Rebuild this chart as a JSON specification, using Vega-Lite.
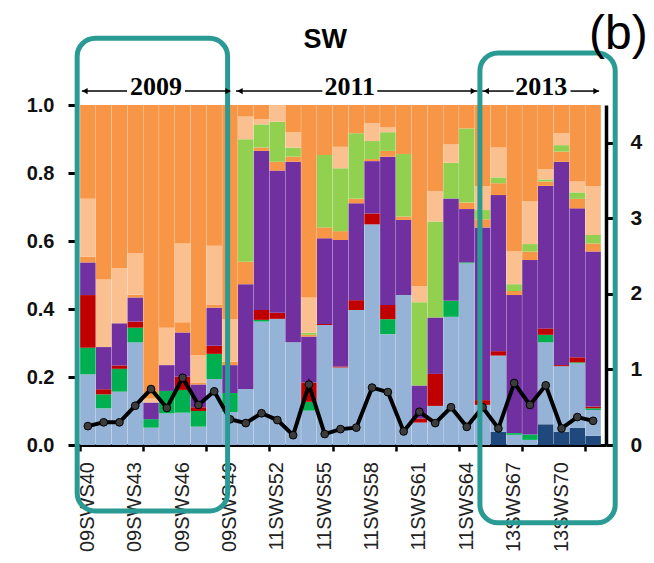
{
  "$schema": "https://vega.github.io/schema/vega-lite/v6.json",
  "autosize": {"type": "none"},
  "width": 531,
  "height": 340,
  "padding": {"left": 75, "top": 105, "right": 48, "bottom": 118},
  "background": "white",
  "config": {"view": {"stroke": null}, "font": "Liberation Sans"},
  "datasets": {
    "samples": [
      {"s":"09SWS40","n":40,"F1":0,"F2":0.208,"F3":0.078,"F4":0.155,"F5":0.096,"F6":0.017,"F7":0,"F8":0.17,"F9":0.276,"r":0.25},
      {"s":"09SWS41","n":41,"F1":0,"F2":0.108,"F3":0.041,"F4":0.015,"F5":0.124,"F6":0,"F7":0,"F8":0.199,"F9":0.513,"r":0.30},
      {"s":"09SWS42","n":42,"F1":0,"F2":0.157,"F3":0.067,"F4":0.010,"F5":0.124,"F6":0,"F7":0,"F8":0.162,"F9":0.48,"r":0.30},
      {"s":"09SWS43","n":43,"F1":0,"F2":0.302,"F3":0.043,"F4":0.018,"F5":0.071,"F6":0.008,"F7":0,"F8":0.121,"F9":0.437,"r":0.52},
      {"s":"09SWS44","n":44,"F1":0,"F2":0.051,"F3":0.025,"F4":0,"F5":0.049,"F6":0,"F7":0,"F8":0.012,"F9":0.863,"r":0.74},
      {"s":"09SWS45","n":45,"F1":0,"F2":0.093,"F3":0.066,"F4":0,"F5":0.076,"F6":0,"F7":0,"F8":0.11,"F9":0.655,"r":0.49},
      {"s":"09SWS46","n":46,"F1":0,"F2":0.095,"F3":0.067,"F4":0.039,"F5":0.13,"F6":0.03,"F7":0,"F8":0.232,"F9":0.407,"r":0.89},
      {"s":"09SWS47","n":47,"F1":0,"F2":0.054,"F3":0.046,"F4":0.011,"F5":0.067,"F6":0.006,"F7":0,"F8":0.081,"F9":0.735,"r":0.53},
      {"s":"09SWS48","n":48,"F1":0,"F2":0.194,"F3":0.074,"F4":0.024,"F5":0.112,"F6":0.008,"F7":0,"F8":0.174,"F9":0.414,"r":0.71},
      {"s":"09SWS49","n":49,"F1":0,"F2":0.097,"F3":0.056,"F4":0,"F5":0.082,"F6":0.01,"F7":0,"F8":0.125,"F9":0.63,"r":0.34},
      {"s":"11SWS50","n":50,"F1":0,"F2":0.165,"F3":0,"F4":0,"F5":0.308,"F6":0.066,"F7":0.36,"F8":0.067,"F9":0.034,"r":0.29},
      {"s":"11SWS51","n":51,"F1":0,"F2":0.363,"F3":0.005,"F4":0.029,"F5":0.468,"F6":0.01,"F7":0.068,"F8":0.015,"F9":0.042,"r":0.42},
      {"s":"11SWS52","n":52,"F1":0,"F2":0.371,"F3":0,"F4":0.018,"F5":0.418,"F6":0.026,"F7":0.118,"F8":0.049,"F9":0,"r":0.33},
      {"s":"11SWS53","n":53,"F1":0,"F2":0.302,"F3":0,"F4":0,"F5":0.531,"F6":0.015,"F7":0.027,"F8":0.045,"F9":0.08,"r":0.13},
      {"s":"11SWS54","n":54,"F1":0,"F2":0.101,"F3":0.026,"F4":0.057,"F5":0.135,"F6":0.005,"F7":0.006,"F8":0.104,"F9":0.566,"r":0.80},
      {"s":"11SWS55","n":55,"F1":0,"F2":0.353,"F3":0,"F4":0.003,"F5":0.252,"F6":0.032,"F7":0.213,"F8":0,"F9":0.147,"r":0.145},
      {"s":"11SWS56","n":56,"F1":0,"F2":0.228,"F3":0,"F4":0.003,"F5":0.372,"F6":0.026,"F7":0.185,"F8":0.063,"F9":0.123,"r":0.21},
      {"s":"11SWS57","n":57,"F1":0,"F2":0.397,"F3":0,"F4":0.029,"F5":0.285,"F6":0.013,"F7":0.193,"F8":0,"F9":0.083,"r":0.23},
      {"s":"11SWS58","n":58,"F1":0,"F2":0.649,"F3":0,"F4":0.032,"F5":0.154,"F6":0.006,"F7":0.053,"F8":0.052,"F9":0.054,"r":0.76},
      {"s":"11SWS59","n":59,"F1":0,"F2":0.326,"F3":0.044,"F4":0.042,"F5":0.436,"F6":0.017,"F7":0.055,"F8":0.014,"F9":0.066,"r":0.70},
      {"s":"11SWS60","n":60,"F1":0,"F2":0.441,"F3":0,"F4":0,"F5":0.221,"F6":0.01,"F7":0.184,"F8":0,"F9":0.144,"r":0.18},
      {"s":"11SWS61","n":61,"F1":0,"F2":0.066,"F3":0,"F4":0.012,"F5":0.097,"F6":0,"F7":0.245,"F8":0.048,"F9":0.532,"r":0.44},
      {"s":"11SWS62","n":62,"F1":0,"F2":0.115,"F3":0,"F4":0.094,"F5":0.166,"F6":0,"F7":0.282,"F8":0.09,"F9":0.253,"r":0.29},
      {"s":"11SWS63","n":63,"F1":0,"F2":0.377,"F3":0.047,"F4":0,"F5":0.301,"F6":0,"F7":0.105,"F8":0.054,"F9":0.116,"r":0.50},
      {"s":"11SWS64","n":64,"F1":0,"F2":0.534,"F3":0.003,"F4":0,"F5":0.157,"F6":0.019,"F7":0.218,"F8":0,"F9":0.069,"r":0.24},
      {"s":"13SWS65","n":65,"F1":0,"F2":0.118,"F3":0,"F4":0.014,"F5":0.508,"F6":0.024,"F7":0.027,"F8":0.071,"F9":0.238,"r":0.50},
      {"s":"13SWS66","n":66,"F1":0.039,"F2":0.224,"F3":0,"F4":0.013,"F5":0.459,"F6":0.035,"F7":0.017,"F8":0.088,"F9":0.125,"r":0.22},
      {"s":"13SWS67","n":67,"F1":0,"F2":0.03,"F3":0.005,"F4":0,"F5":0.406,"F6":0.012,"F7":0.02,"F8":0.096,"F9":0.431,"r":0.82},
      {"s":"13SWS68","n":68,"F1":0,"F2":0.015,"F3":0.016,"F4":0,"F5":0.513,"F6":0.025,"F7":0.022,"F8":0.125,"F9":0.284,"r":0.53},
      {"s":"13SWS69","n":69,"F1":0.061,"F2":0.241,"F3":0.022,"F4":0.019,"F5":0.419,"F6":0.013,"F7":0.006,"F8":0.03,"F9":0.189,"r":0.79},
      {"s":"13SWS70","n":70,"F1":0.039,"F2":0.193,"F3":0,"F4":0.003,"F5":0.598,"F6":0.03,"F7":0.019,"F8":0.035,"F9":0.083,"r":0.22},
      {"s":"13SWS71","n":71,"F1":0.051,"F2":0.189,"F3":0.003,"F4":0.015,"F5":0.438,"F6":0.028,"F7":0.019,"F8":0.032,"F9":0.225,"r":0.37},
      {"s":"13SWS72","n":72,"F1":0.027,"F2":0.076,"F3":0.005,"F4":0.005,"F5":0.456,"F6":0.024,"F7":0.025,"F8":0.144,"F9":0.238,"r":0.32}
    ],
    "xlabels": [
      {"lab":"09SWS40","n":40},{"lab":"09SWS43","n":43},{"lab":"09SWS46","n":46},{"lab":"09SWS49","n":49},
      {"lab":"11SWS52","n":52},{"lab":"11SWS55","n":55},{"lab":"11SWS58","n":58},{"lab":"11SWS61","n":61},
      {"lab":"11SWS64","n":64},{"lab":"13SWS67","n":67},{"lab":"13SWS70","n":70}
    ],
    "boxes": [
      {"x1": 39.32, "x2": 48.85, "y1": 1.196, "y2": -0.194},
      {"x1": 64.83, "x2": 73.4, "y1": 1.153, "y2": -0.229}
    ],
    "arrows": [
      {"a": 39.62, "b": 42.48}, {"a": 46.15, "b": 49.01},
      {"a": 49.38, "b": 54.85}, {"a": 58.33, "b": 64.67},
      {"a": 64.98, "b": 66.97}, {"a": 70.57, "b": 72.38}
    ],
    "heads": [
      {"x": 39.81, "d": "l"}, {"x": 48.88, "d": "r"},
      {"x": 49.63, "d": "l"}, {"x": 64.42, "d": "r"},
      {"x": 65.23, "d": "l"}, {"x": 72.19, "d": "r"}
    ],
    "years": [
      {"t": "2009", "x": 44.32, "y": 1.053},
      {"t": "2011", "x": 56.59, "y": 1.053},
      {"t": "2013", "x": 68.71, "y": 1.053}
    ]
  },
  "encoding": {
    "x": {"type": "quantitative", "scale": {"domain": [39.5, 72.5], "nice": false, "zero": false}}
  },
  "layer": [
    {
      "data": {"name": "samples"},
      "transform": [{"fold": ["F1","F2","F3","F4","F5","F6","F7","F8","F9"], "as": ["key","value"]}],
      "mark": {"type": "bar", "orient": "vertical", "width": 15.5},
      "encoding": {
        "x": {"field": "n", "type": "quantitative",
              "axis": {"title": null, "orient": "bottom", "grid": false, "domainColor": "black", "domainWidth": 3,
                       "values": [39.5,40.5,41.5,42.5,43.5,44.5,45.5,46.5,47.5,48.5,49.5,50.5,51.5,52.5,53.5,54.5,55.5,56.5,57.5,58.5,59.5,60.5,61.5,62.5,63.5,64.5,65.5,66.5,67.5,68.5,69.5,70.5,71.5,72.5],
                       "tickColor": "black", "tickWidth": 2.5, "tickSize": 6, "labels": false}},
        "y": {"field": "value", "type": "quantitative", "stack": "zero",
              "scale": {"domain": [0, 1], "nice": false},
              "axis": {"title": null, "orient": "left", "values": [0,0.2,0.4,0.6,0.8,1.0], "format": ".1f",
                       "grid": false, "domain": false, "tickColor": "black", "tickWidth": 3, "tickSize": 7,
                       "labelFontSize": 20, "labelFontWeight": "bold", "labelColor": "#111", "labelPadding": 14}},
        "color": {"field": "key", "type": "nominal", "legend": null,
                  "scale": {"domain": ["F1","F2","F3","F4","F5","F6","F7","F8","F9"],
                            "range": ["#1f497d","#95b3d7","#00b050","#c00000","#7030a0","#f79646","#92d050","#fac090","#f79646"]}},
        "order": {"field": "key", "type": "ordinal", "sort": "ascending"}
      }
    },
    {
      "data": {"name": "samples"},
      "mark": {"type": "line", "color": "black", "strokeWidth": 4},
      "encoding": {
        "x": {"field": "n", "type": "quantitative"},
        "y": {"field": "r", "type": "quantitative",
              "scale": {"domain": [0, 4.5], "nice": false},
              "axis": {"title": null, "orient": "right", "values": [0,1,2,3,4], "format": "d", "grid": false,
                       "domainColor": "black", "domainWidth": 3.5, "tickColor": "black", "tickWidth": 3, "tickSize": 7,
                       "labelFontSize": 21, "labelFontWeight": "bold", "labelColor": "#111", "labelPadding": 17}}
      }
    },
    {
      "data": {"name": "samples"},
      "mark": {"type": "point", "filled": true, "size": 60, "fill": "#3c3c3c", "stroke": "black", "strokeWidth": 1, "opacity": 1},
      "encoding": {
        "x": {"field": "n", "type": "quantitative"},
        "y": {"field": "r", "type": "quantitative", "scale": {"domain": [0, 4.5], "nice": false}, "axis": null}
      }
    },
    {
      "data": {"name": "xlabels"},
      "mark": {"type": "text", "font": "Liberation Sans", "fontSize": 20, "angle": 270, "align": "right", "baseline": "middle", "color": "#222"},
      "encoding": {
        "x": {"field": "n", "type": "quantitative"},
        "y": {"datum": -0.05, "type": "quantitative", "scale": {"domain": [0, 1], "nice": false, "zero": false}, "axis": null},
        "text": {"field": "lab"}
      }
    },
    {
      "data": {"name": "boxes"},
      "mark": {"type": "rect", "filled": false, "stroke": "#2a9a94", "strokeWidth": 5, "cornerRadius": 18},
      "encoding": {
        "x": {"field": "x1", "type": "quantitative"},
        "x2": {"field": "x2"},
        "y": {"field": "y1", "type": "quantitative", "scale": {"domain": [0, 1], "nice": false, "zero": false}, "axis": null},
        "y2": {"field": "y2"}
      }
    },
    {
      "data": {"name": "arrows"},
      "mark": {"type": "rule", "color": "black", "strokeWidth": 1.5},
      "encoding": {
        "x": {"field": "a", "type": "quantitative"},
        "x2": {"field": "b"},
        "y": {"datum": 1.041, "type": "quantitative", "scale": {"domain": [0, 1], "nice": false, "zero": false}, "axis": null}
      }
    },
    {
      "data": {"name": "heads"},
      "mark": {"type": "point", "filled": true, "color": "black", "size": 40, "opacity": 1},
      "encoding": {
        "x": {"field": "x", "type": "quantitative"},
        "y": {"datum": 1.041, "type": "quantitative", "scale": {"domain": [0, 1], "nice": false, "zero": false}, "axis": null},
        "shape": {"field": "d", "type": "nominal", "legend": null,
                  "scale": {"domain": ["l","r"], "range": ["triangle-left","triangle-right"]}}
      }
    },
    {
      "data": {"name": "years"},
      "mark": {"type": "text", "font": "Liberation Serif", "fontWeight": "bold", "fontSize": 26, "baseline": "middle", "align": "center", "color": "black"},
      "encoding": {
        "x": {"field": "x", "type": "quantitative"},
        "y": {"field": "y", "type": "quantitative", "scale": {"domain": [0, 1], "nice": false, "zero": false}, "axis": null},
        "text": {"field": "t"}
      }
    },
    {
      "data": {"values": [{"t": "SW", "x": 55.04, "y": 1.191}]},
      "mark": {"type": "text", "font": "Liberation Sans", "fontWeight": "bold", "fontSize": 27, "baseline": "middle", "align": "center", "color": "black"},
      "encoding": {
        "x": {"field": "x", "type": "quantitative"},
        "y": {"field": "y", "type": "quantitative", "scale": {"domain": [0, 1], "nice": false, "zero": false}, "axis": null},
        "text": {"field": "t"}
      }
    },
    {
      "data": {"values": [{"t": "(b)", "x": 73.6, "y": 1.206}]},
      "mark": {"type": "text", "font": "Liberation Sans", "fontSize": 48, "baseline": "middle", "align": "center", "color": "black"},
      "encoding": {
        "x": {"field": "x", "type": "quantitative"},
        "y": {"field": "y", "type": "quantitative", "scale": {"domain": [0, 1], "nice": false, "zero": false}, "axis": null},
        "text": {"field": "t"}
      }
    }
  ],
  "resolve": {"scale": {"y": "independent"}}
}
